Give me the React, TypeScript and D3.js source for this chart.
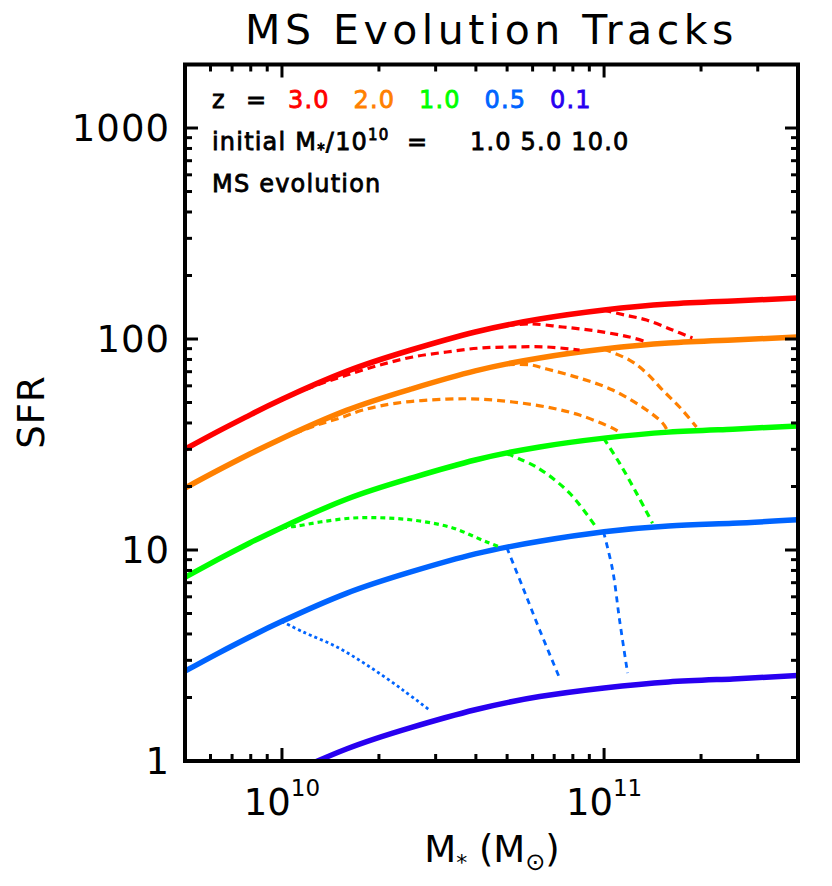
import { useEffect, useRef } from "react";
import * as d3 from "d3";

const W = 832;
const H = 886;
const plot = { left: 185, right: 798, top: 64.5, bottom: 761 };

// stellar mass in units of 1e10 Msun
const massGrid = [0.501, 0.631, 0.794, 1.0, 1.585, 2.512, 3.981, 6.31, 10.0, 15.85, 25.12, 39.81];

// main sequence SFR at each redshift
const msZ30 = [30.1, 36.4, 43.6, 51.8, 70.2, 88.7, 108.0, 124.4, 137.2, 146.5, 151.4, 156.5];
const msZ20 = [19.7, 23.8, 28.5, 33.8, 45.9, 57.9, 70.6, 81.3, 89.6, 95.7, 98.9, 102.2];
const msZ10 = [7.44, 9.0, 10.8, 12.8, 17.4, 21.9, 26.7, 30.8, 33.9, 36.2, 37.4, 38.7];
const msZ05 = [2.67, 3.23, 3.87, 4.59, 6.23, 7.87, 9.58, 11.0, 12.2, 13.0, 13.4, 13.9];
const msZ01 = [0.49, 0.59, 0.71, 0.84, 1.14, 1.44, 1.75, 2.02, 2.22, 2.37, 2.45, 2.54];

// evolution tracks [mass/1e10, SFR], initial mass 1, 5, 10 (x1e10)
const tracksZ30 = [
  [[1.0, 51.8], [1.137, 56.4], [1.312, 61.2], [1.591, 67.5], [2.013, 75.3], [2.548, 82.2], [3.249, 86.8], [4.111, 90.6], [5.204, 91.7], [6.633, 91.7], [8.395, 88.7]],
  [[4.99, 115.7], [5.875, 118.0], [7.435, 114.0], [9.478, 109.1], [11.99, 102.2], [13.55, 96.8]],
  [[9.96, 137.2], [11.58, 130.0], [13.55, 123.0], [16.31, 110.3], [18.81, 101.1]],
];
const tracksZ20 = [
  [[1.0, 33.8], [1.284, 39.1], [1.513, 42.2], [1.783, 46.1], [2.273, 49.7], [3.249, 51.9], [4.111, 51.9], [5.204, 50.3], [6.633, 47.6], [8.395, 43.6], [10.63, 37.8], [11.17, 36.2]],
  [[4.99, 75.6], [5.875, 75.5], [6.633, 72.1], [8.395, 65.3], [10.63, 57.3], [13.55, 46.1], [15.19, 40.0], [15.63, 37.5]],
  [[9.96, 89.6], [11.99, 79.5], [13.55, 69.0], [15.19, 57.3], [17.15, 47.6], [19.36, 38.3]],
];
const tracksZ10 = [
  [[1.0, 12.8], [1.097, 12.95], [1.312, 13.57], [1.661, 14.18], [2.117, 14.18], [2.679, 13.72], [3.39, 12.72], [4.322, 10.91], [4.742, 10.33]],
  [[4.99, 28.6], [6.175, 24.7], [7.816, 18.6], [9.478, 12.72]],
  [[9.96, 33.9], [11.17, 25.8], [12.61, 18.6], [14.14, 13.4]],
];
const tracksZ05 = [
  [[1.0, 4.59], [1.162, 4.09], [1.481, 3.47], [1.875, 2.79], [2.373, 2.17], [2.877, 1.74]],
  [[4.99, 10.26], [5.588, 6.68], [6.31, 4.18], [7.278, 2.47]],
  [[9.96, 12.2], [10.63, 8.04], [11.17, 4.66], [11.83, 2.61]],
];

const zLabels = ["3.0", "2.0", "1.0", "0.5", "0.1"];
const zColors = ["#ff0000", "#ff8000", "#00ff00", "#0064ff", "#2800f0"];
const msSeries = [msZ30, msZ20, msZ10, msZ05, msZ01];
const trackSets = [tracksZ30, tracksZ20, tracksZ10, tracksZ05];
const initialMasses = ["1.0", "5.0", "10.0"];

const xTickMajor = [1, 10];
const xTickLabels = ["10", "11"];
const yTickMajor = [1, 10, 100, 1000];
const yTickLabels = ["1", "10", "100", "1000"];

const font = "'DejaVu Sans', sans-serif";

const App = () => {
  const ref = useRef<SVGSVGElement>(null);

  useEffect(() => {
    const svg = d3.select(ref.current);
    svg.selectAll("*").remove();

    const x = d3.scaleLog().domain([0.5, 40]).range([plot.left, plot.right]);
    const y = d3.scaleLog().domain([1, 2000]).range([plot.bottom, plot.top]);

    svg
      .append("defs")
      .append("clipPath")
      .attr("id", "plotclip")
      .append("rect")
      .attr("x", plot.left)
      .attr("y", plot.top)
      .attr("width", plot.right - plot.left)
      .attr("height", plot.bottom - plot.top);

    const g = svg.append("g").attr("clip-path", "url(#plotclip)");

    const msLine = d3
      .line<number>()
      .x((_, i) => x(massGrid[i]))
      .y((d) => y(d))
      .curve(d3.curveNatural);

    msSeries.forEach((s, i) => {
      g.append("path")
        .datum(s)
        .attr("fill", "none")
        .attr("stroke", zColors[i])
        .attr("stroke-width", 5.5)
        .attr("d", msLine);
    });

    const trackLine = d3
      .line<number[]>()
      .x((d) => x(d[0]))
      .y((d) => y(d[1]))
      .curve(d3.curveCatmullRom.alpha(0.5));

    const dashFor = (zi: number, ti: number) => {
      if (zi === 3) return ti === 0 ? "3,3" : "6,5";
      if (zi === 2) return ti === 0 ? "5,4" : "7,5";
      return "8,5";
    };

    trackSets.forEach((set, zi) => {
      set.forEach((t, ti) => {
        g.append("path")
          .datum(t)
          .attr("fill", "none")
          .attr("stroke", zColors[zi])
          .attr("stroke-width", zi === 3 ? 2.8 : 3.2)
          .attr("stroke-dasharray", dashFor(zi, ti))
          .attr("d", trackLine);
      });
    });

    // frame and ticks
    const axes = svg.append("g").attr("stroke", "#000");
    axes
      .append("rect")
      .attr("x", plot.left)
      .attr("y", plot.top)
      .attr("width", plot.right - plot.left)
      .attr("height", plot.bottom - plot.top)
      .attr("fill", "none")
      .attr("stroke-width", 4);

    const isMajor = (v: number) => Math.abs(Math.log10(v) - Math.round(Math.log10(v))) < 1e-6;

    x.ticks().forEach((v) => {
      const px = x(v);
      if (px <= plot.left + 1 || px >= plot.right - 1) return;
      const len = isMajor(v) ? 13 : 7;
      axes.append("line").attr("x1", px).attr("x2", px).attr("y1", plot.bottom).attr("y2", plot.bottom - len).attr("stroke-width", 3);
      axes.append("line").attr("x1", px).attr("x2", px).attr("y1", plot.top).attr("y2", plot.top + len).attr("stroke-width", 3);
    });
    y.ticks().forEach((v) => {
      const py = y(v);
      if (py <= plot.top + 1 || py >= plot.bottom - 1) return;
      const len = isMajor(v) ? 13 : 7;
      axes.append("line").attr("y1", py).attr("y2", py).attr("x1", plot.left).attr("x2", plot.left + len).attr("stroke-width", 3);
      axes.append("line").attr("y1", py).attr("y2", py).attr("x1", plot.right).attr("x2", plot.right - len).attr("stroke-width", 3);
    });

    // tick labels
    const txt = svg.append("g").attr("font-family", font).attr("fill", "#000");
    yTickMajor.forEach((v, i) => {
      txt.append("text")
        .attr("x", 170)
        .attr("y", y(v))
        .attr("dy", "0.36em")
        .attr("text-anchor", "end")
        .attr("font-size", 37)
        .attr("letter-spacing", 1)
        .text(yTickLabels[i]);
    });
    xTickMajor.forEach((v, i) => {
      const t = txt.append("text")
        .attr("x", x(v))
        .attr("y", 815)
        .attr("text-anchor", "middle")
        .attr("font-size", 37);
      t.append("tspan").text("10");
      t.append("tspan").attr("font-size", 23).attr("dy", -19).text(xTickLabels[i]);
    });

    // axis titles
    const xt = txt.append("text").attr("x", 492).attr("y", 862).attr("text-anchor", "middle").attr("font-size", 37);
    xt.append("tspan").text("M");
    xt.append("tspan").attr("font-size", 22).attr("dy", 8).text("*");
    xt.append("tspan").attr("dy", -8).text(" (M");
    xt.append("tspan").attr("font-size", 24).attr("dy", 8).text("⊙");
    xt.append("tspan").attr("dy", -8).text(")");

    txt.append("text")
      .attr("transform", "translate(44,412) rotate(-90)")
      .attr("text-anchor", "middle")
      .attr("font-size", 37)
      .attr("letter-spacing", 1)
      .text("SFR");

    txt.append("text")
      .attr("x", (plot.left + plot.right) / 2)
      .attr("y", 44)
      .attr("text-anchor", "middle")
      .attr("font-size", 41)
      .attr("letter-spacing", 4.5)
      .text("MS Evolution Tracks");

    // legend
    const leg = svg
      .append("g")
      .attr("font-family", font)
      .attr("font-size", 24)
      .attr("letter-spacing", 1.2)
      .attr("stroke-width", 0.8);
    leg.append("text").attr("x", 212).attr("y", 108).attr("stroke", "#000").text("z");
    leg.append("text").attr("x", 246).attr("y", 108).attr("stroke", "#000").text("=");
    zLabels.forEach((l, i) => {
      leg.append("text")
        .attr("x", 288 + i * 65.5)
        .attr("y", 108)
        .attr("fill", zColors[i])
        .attr("stroke", zColors[i])
        .text(l);
    });
    const l2 = leg.append("text").attr("x", 212).attr("y", 150).attr("stroke", "#000");
    l2.append("tspan").text("initial M");
    l2.append("tspan").attr("font-size", 15).attr("dy", 5).text("*");
    l2.append("tspan").attr("dy", -5).text("/10");
    l2.append("tspan").attr("font-size", 15).attr("dy", -10).text("10");
    leg.append("text").attr("x", 407).attr("y", 150).attr("stroke", "#000").text("=");
    leg.append("text").attr("x", 470).attr("y", 150).attr("stroke", "#000").text(initialMasses.join(" "));
    leg.append("text").attr("x", 212).attr("y", 192).attr("stroke", "#000").text("MS evolution");
  }, []);

  return (
    <svg
      ref={ref}
      width={W}
      height={H}
      style={{ position: "absolute", left: 0, top: 0, background: "#fff" }}
    />
  );
};

export default App;
